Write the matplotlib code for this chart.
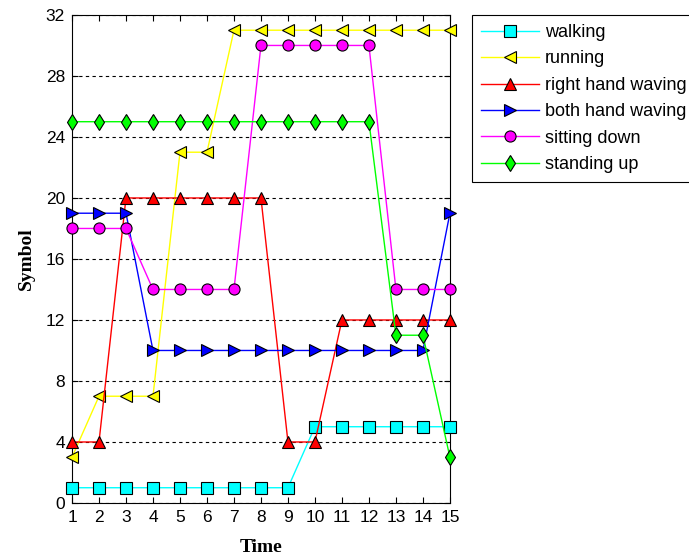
import numpy as np
import matplotlib.pyplot as plt

time = np.arange(1, 16)

walking = [1, 1, 1, 1, 1, 1, 1, 1, 1, 5, 5, 5, 5, 5, 5]
running = [3, 7, 7, 7, 23, 23, 31, 31, 31, 31, 31, 31, 31, 31, 31]
right_hand = [4, 4, 20, 20, 20, 20, 20, 20, 4, 4, 12, 12, 12, 12, 12]
both_hand = [19, 19, 19, 10, 10, 10, 10, 10, 10, 10, 10, 10, 10, 10, 19]
sitting = [18, 18, 18, 14, 14, 14, 14, 30, 30, 30, 30, 30, 14, 14, 14]
standing = [25, 25, 25, 25, 25, 25, 25, 25, 25, 25, 25, 25, 11, 11, 3]

series = [
    ('walking', walking, 's', '#00ffff'),
    ('running', running, '<', '#ffff00'),
    ('right hand waving', right_hand, '^', '#ff0000'),
    ('both hand waving', both_hand, '>', '#0000ff'),
    ('sitting down', sitting, 'o', '#ff00ff'),
    ('standing up', standing, 'd', '#00ff00'),
]

fig = plt.figure(figsize=(6.89, 5.58), dpi=100)
ax = fig.add_axes([0.1045, 0.0986, 0.5485, 0.8746])

for name, vals, mk, col in series:
    ax.plot(time, vals, color=col, lw=1, marker=mk, markersize=8,
            markerfacecolor=col, markeredgecolor='black', markeredgewidth=0.8,
            label=name, clip_on=False, zorder=3)

ax.set_xlim(1, 15)
ax.set_ylim(0, 32)
ax.set_xticks(time)
ax.set_yticks(np.arange(0, 33, 4))
ax.yaxis.grid(True, linestyle=(0, (3, 3)), color='black', lw=0.8)
ax.set_axisbelow(True)
ax.tick_params(direction='in', top=True, right=True, labelsize=12.5, length=4, pad=5)
for lbl in ax.get_xticklabels() + ax.get_yticklabels():
    lbl.set_family('Liberation Sans')
for s in ax.spines.values():
    s.set_linewidth(0.8)

ax.set_xlabel('Time', fontsize=14, fontweight='bold', family='Liberation Serif', labelpad=10)
ax.set_ylabel('Symbol', fontsize=14, fontweight='bold', family='Liberation Serif', labelpad=8)

leg = fig.legend(loc='upper left', bbox_to_anchor=(0.685, 0.973),
                 prop={'family': 'Liberation Sans', 'size': 13},
                 handlelength=3.2, handletextpad=0.35, labelspacing=0.52,
                 fancybox=False, edgecolor='black', framealpha=1,
                 borderaxespad=0, borderpad=0.5)
leg.get_frame().set_linewidth(0.8)

fig.savefig('out.png', dpi=100)
